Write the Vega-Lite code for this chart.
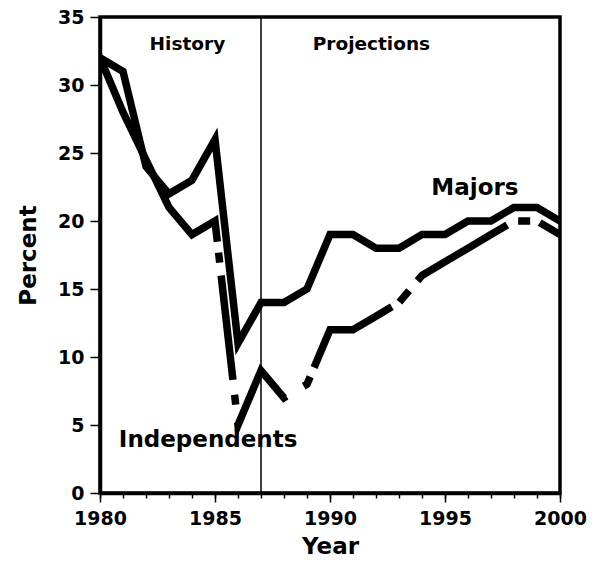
{
  "$schema": "https://vega.github.io/schema/vega-lite/v6.json",
  "width": 460,
  "height": 476,
  "autosize": {"type": "none"},
  "padding": {"left": 100, "top": 17, "right": 32, "bottom": 68},
  "background": "white",
  "config": {
    "font": "DejaVu Sans",
    "view": {"stroke": "black", "strokeWidth": 3.5},
    "axis": {"grid": false, "domainColor": "black", "domainWidth": 3.5, "tickColor": "black", "tickWidth": 1.5, "labelColor": "black", "titleColor": "black", "labelFont": "DejaVu Sans", "titleFont": "DejaVu Sans", "labelFontWeight": "bold", "titleFontWeight": "bold", "labelFontSize": 19, "titleFontSize": 23}
  },
  "datasets": {
    "series": [
      {"series": "Majors", "year": 1980, "percent": 32},
      {"series": "Majors", "year": 1981, "percent": 31},
      {"series": "Majors", "year": 1982, "percent": 24},
      {"series": "Majors", "year": 1983, "percent": 22},
      {"series": "Majors", "year": 1984, "percent": 23},
      {"series": "Majors", "year": 1985, "percent": 26},
      {"series": "Majors", "year": 1986, "percent": 11},
      {"series": "Majors", "year": 1987, "percent": 14},
      {"series": "Majors", "year": 1988, "percent": 14},
      {"series": "Majors", "year": 1989, "percent": 15},
      {"series": "Majors", "year": 1990, "percent": 19},
      {"series": "Majors", "year": 1991, "percent": 19},
      {"series": "Majors", "year": 1992, "percent": 18},
      {"series": "Majors", "year": 1993, "percent": 18},
      {"series": "Majors", "year": 1994, "percent": 19},
      {"series": "Majors", "year": 1995, "percent": 19},
      {"series": "Majors", "year": 1996, "percent": 20},
      {"series": "Majors", "year": 1997, "percent": 20},
      {"series": "Majors", "year": 1998, "percent": 21},
      {"series": "Majors", "year": 1999, "percent": 21},
      {"series": "Majors", "year": 2000, "percent": 20},
      {"series": "Independents", "year": 1980, "percent": 32},
      {"series": "Independents", "year": 1981, "percent": 28},
      {"series": "Independents", "year": 1982, "percent": 24.5},
      {"series": "Independents", "year": 1983, "percent": 21},
      {"series": "Independents", "year": 1984, "percent": 19},
      {"series": "Independents", "year": 1985, "percent": 20},
      {"series": "Independents", "year": 1986, "percent": 5},
      {"series": "Independents", "year": 1987, "percent": 9},
      {"series": "Independents", "year": 1988, "percent": 7},
      {"series": "Independents", "year": 1989, "percent": 8},
      {"series": "Independents", "year": 1990, "percent": 12},
      {"series": "Independents", "year": 1991, "percent": 12},
      {"series": "Independents", "year": 1992, "percent": 13},
      {"series": "Independents", "year": 1993, "percent": 14},
      {"series": "Independents", "year": 1994, "percent": 16},
      {"series": "Independents", "year": 1995, "percent": 17},
      {"series": "Independents", "year": 1996, "percent": 18},
      {"series": "Independents", "year": 1997, "percent": 19},
      {"series": "Independents", "year": 1998, "percent": 20},
      {"series": "Independents", "year": 1999, "percent": 20},
      {"series": "Independents", "year": 2000, "percent": 19}
    ],
    "divider": [{"year": 1987}],
    "headers": [
      {"year": 1983.8, "percent": 33.05, "label": "History"},
      {"year": 1991.8, "percent": 33.05, "label": "Projections"}
    ],
    "names": [
      {"year": 1996.3, "percent": 22.4, "label": "Majors"},
      {"year": 1984.7, "percent": 3.9, "label": "Independents"}
    ]
  },
  "resolve": {"axis": {"x": "independent", "y": "independent"}},
  "layer": [
    {
      "data": {"name": "series"},
      "transform": [{"filter": "datum.series == 'Majors'"}],
      "mark": {"type": "line", "color": "black", "strokeWidth": 7.5, "strokeJoin": "miter", "clip": true},
      "encoding": {
        "x": {"field": "year", "type": "quantitative", "scale": {"domain": [1980, 2000], "nice": false, "zero": false},
          "axis": {"orient": "bottom", "title": "Year", "values": [1980,1981,1982,1983,1984,1985,1986,1987,1988,1989,1990,1991,1992,1993,1994,1995,1996,1997,1998,1999,2000], "labelExpr": "datum.value % 5 == 0 ? datum.label : ''", "format": "d", "tickSize": 5, "labelPadding": 11, "titlePadding": 7, "labelFlush": false, "labelOverlap": false}},
        "y": {"field": "percent", "type": "quantitative", "scale": {"domain": [0, 35], "nice": false},
          "axis": {"orient": "left", "title": "Percent", "values": [0,5,10,15,20,25,30,35], "tickSize": 10, "labelPadding": 6, "titlePadding": 17, "labelFlush": false}}
      }
    },
    {
      "data": {"name": "series"},
      "transform": [{"filter": "datum.series == 'Independents'"}],
      "mark": {"type": "line", "color": "black", "strokeWidth": 7.5, "strokeJoin": "miter", "clip": true, "strokeDash": [248, 11, 10, 13, 105, 15, 10, 18, 100, 20, 12, 10, 109, 9, 15, 13, 106, 12, 12, 10, 40]},
      "encoding": {
        "x": {"field": "year", "type": "quantitative", "scale": {"domain": [1980, 2000], "nice": false, "zero": false},
          "axis": {"orient": "bottom", "title": null, "values": [1980,1985,1990,1995,2000], "labels": false, "domain": false, "tickSize": 9}},
        "y": {"field": "percent", "type": "quantitative", "scale": {"domain": [0, 35], "nice": false}, "axis": null}
      }
    },
    {
      "data": {"name": "divider"},
      "mark": {"type": "rule", "color": "black", "strokeWidth": 1.5},
      "encoding": {
        "x": {"field": "year", "type": "quantitative", "axis": null}
      }
    },
    {
      "data": {"name": "headers"},
      "mark": {"type": "text", "font": "DejaVu Sans", "fontWeight": "bold", "fontSize": 18.5, "color": "black", "align": "center", "baseline": "middle"},
      "encoding": {
        "x": {"field": "year", "type": "quantitative", "axis": null},
        "y": {"field": "percent", "type": "quantitative", "axis": null},
        "text": {"field": "label"}
      }
    },
    {
      "data": {"name": "names"},
      "mark": {"type": "text", "font": "DejaVu Sans", "fontWeight": "bold", "fontSize": 23, "color": "black", "align": "center", "baseline": "middle"},
      "encoding": {
        "x": {"field": "year", "type": "quantitative", "axis": null},
        "y": {"field": "percent", "type": "quantitative", "axis": null},
        "text": {"field": "label"}
      }
    }
  ]
}
